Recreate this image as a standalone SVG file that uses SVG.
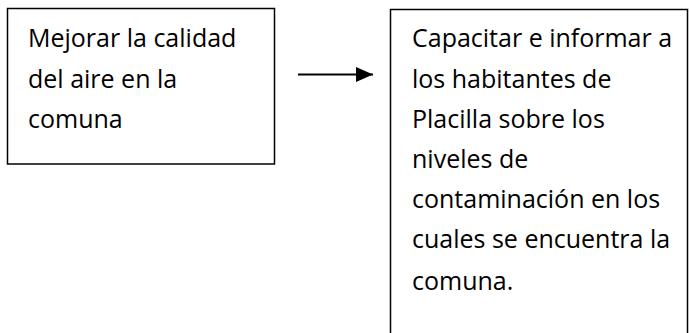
<svg xmlns="http://www.w3.org/2000/svg" width="690" height="333" viewBox="0 0 690 333">
<style>
.box{fill:#fff;stroke:#000;stroke-width:1.5}
.t{font-family:"Open Sans","Noto Sans",sans-serif;font-size:25px;fill:#000}
</style>
<defs>
<marker id="ah" markerWidth="17" markerHeight="15" refX="17" refY="7.5" orient="auto" markerUnits="userSpaceOnUse">
<path d="M0,0 L17,7.5 L0,15 Z" fill="#000"/>
</marker>
</defs>
<rect width="690" height="333" fill="#fff"/>
<g id="node-left">
<rect class="box" x="7.5" y="8.5" width="267" height="155.5"/>
<text class="t" x="28" y="47">Mejorar la calidad</text>
<text class="t" x="28" y="88">del aire en la</text>
<text class="t" x="28" y="128">comuna</text>
</g>
<g id="node-right">
<rect class="box" x="390.5" y="9.5" width="297" height="330"/>
<text class="t" x="412" y="47">Capacitar e informar a</text>
<text class="t" x="412" y="88">los habitantes de</text>
<text class="t" x="412" y="128">Placilla sobre los</text>
<text class="t" x="412" y="168">niveles de</text>
<text class="t" x="412" y="208">contaminación en los</text>
<text class="t" x="412" y="248">cuales se encuentra la</text>
<text class="t" x="412" y="290">comuna.</text>
</g>
<g id="connectors">
<line x1="298" y1="74.5" x2="373" y2="74.5" stroke="#000" stroke-width="2.2" marker-end="url(#ah)"/>
</g>
</svg>
